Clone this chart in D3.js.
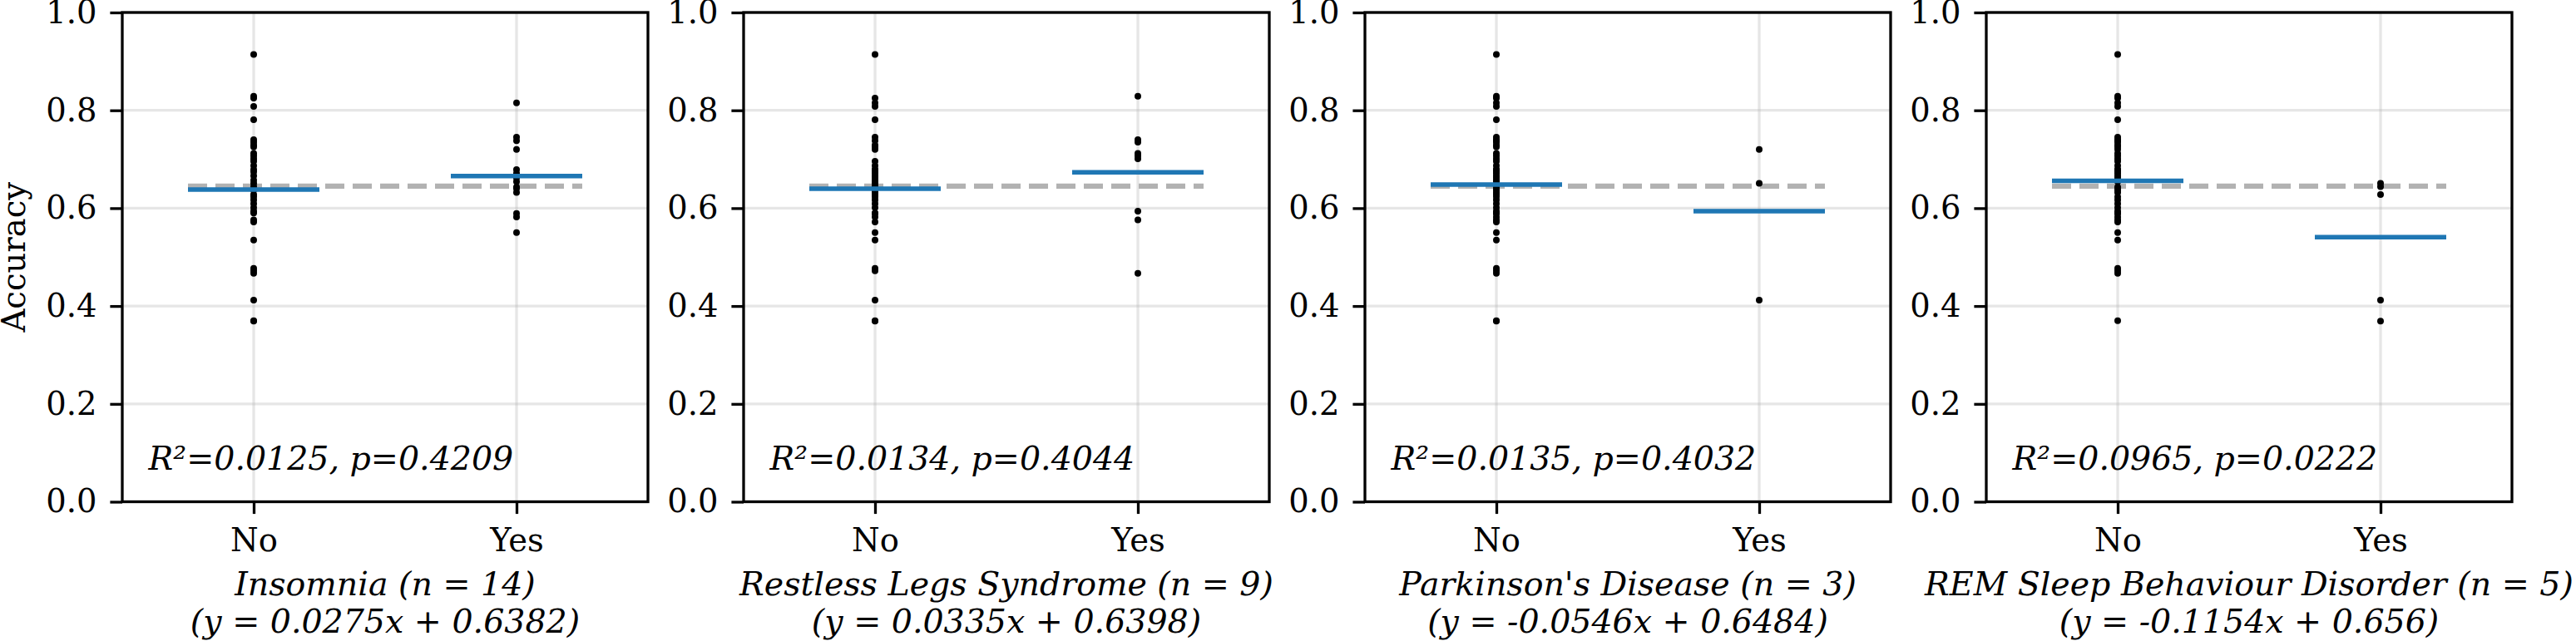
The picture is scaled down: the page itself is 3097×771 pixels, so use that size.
<!DOCTYPE html>
<html>
<head>
<meta charset="utf-8">
<script src="https://cdn.jsdelivr.net/npm/d3@7"></script>
<style>
  body { margin: 0; background: #fff; }
  svg { display: block; font-family: "DejaVu Serif", serif; }
</style>
</head>
<body>
<div id="chart"></div>
<script>
const conditions = ["Insomnia", "Restless Legs Syndrome", "Parkinson's Disease", "REM Sleep Behaviour Disorder"];
const groupLabels = ["No", "Yes"];
const slopes = [0.0275, 0.0335, -0.0546, -0.1154];
const intercepts = [0.6382, 0.6398, 0.6484, 0.656];
const rSquared = ["0.0125", "0.0134", "0.0135", "0.0965"];
const pValues = ["0.4209", "0.4044", "0.4032", "0.0222"];
const overallMean = 0.645;
const yTicks = [0, 0.2, 0.4, 0.6, 0.8, 1.0];

// every participant's accuracy
const allAccuracy = [
  0.914, 0.829, 0.825, 0.808, 0.781, 0.740, 0.735, 0.729, 0.725, 0.712,
  0.707, 0.701, 0.696, 0.687, 0.679, 0.674, 0.666, 0.657, 0.651, 0.644,
  0.637, 0.628, 0.623, 0.617, 0.609, 0.601, 0.594, 0.590, 0.576, 0.572,
  0.535, 0.477, 0.472, 0.467, 0.412, 0.369, 0.370,
  0.815, 0.745, 0.738, 0.720, 0.679, 0.671, 0.662, 0.654, 0.643, 0.640,
  0.632, 0.589, 0.582, 0.550
];

// accuracy of participants with each condition
const yesInsomnia = [0.815, 0.745, 0.738, 0.720, 0.679, 0.671, 0.662, 0.654, 0.643, 0.640, 0.632, 0.589, 0.582, 0.550];
const yesRestlessLegs = [0.829, 0.740, 0.735, 0.712, 0.707, 0.701, 0.594, 0.576, 0.467];
const yesParkinsons = [0.720, 0.651, 0.412];
const yesRemSleep = [0.651, 0.644, 0.628, 0.412, 0.369];
const yesGroups = [yesInsomnia, yesRestlessLegs, yesParkinsons, yesRemSleep];

const W = 3097, H = 771;
const panelLeft = 147, panelStep = 747;
const w = 632, plotTop = 15, h = 588.5;
const tickFS = 38.5, labelFS = 39.5, statFS = 39.5;

function withoutValues(all, remove) {
  const rest = all.slice();
  remove.forEach((v) => {
    const i = rest.findIndex((a) => Math.abs(a - v) < 1e-9);
    if (i >= 0) rest.splice(i, 1);
  });
  return rest;
}

const svg = d3.select("#chart").append("svg").attr("width", W).attr("height", H);

const yScale = d3.scaleLinear().domain([0, 1]).range([h, 0]);
const xScale = d3.scaleLinear().domain([-0.5, 1.5]).range([0, w]);

conditions.forEach((name, k) => {
  const g = svg.append("g").attr("transform", `translate(${panelLeft + k * panelStep},${plotTop})`);
  const yes = yesGroups[k];
  const no = withoutValues(allAccuracy, yes);

  // grid
  g.selectAll(".hgrid").data(yTicks).enter().append("line")
    .attr("x1", 0).attr("x2", w)
    .attr("y1", (d) => yScale(d)).attr("y2", (d) => yScale(d))
    .attr("stroke", "#b0b0b0").attr("stroke-opacity", 0.32).attr("stroke-width", 3.3);
  g.selectAll(".vgrid").data([0, 1]).enter().append("line")
    .attr("x1", (d) => xScale(d)).attr("x2", (d) => xScale(d))
    .attr("y1", 0).attr("y2", h)
    .attr("stroke", "#b0b0b0").attr("stroke-opacity", 0.32).attr("stroke-width", 3.3);

  // overall mean
  g.append("line")
    .attr("x1", xScale(-0.25)).attr("x2", xScale(1.25))
    .attr("y1", yScale(overallMean)).attr("y2", yScale(overallMean))
    .attr("stroke", "#b2b2b2").attr("stroke-width", 6.25)
    .attr("stroke-dasharray", "23,10");

  // points
  const pts = no.map((v) => ({ x: 0, v })).concat(yes.map((v) => ({ x: 1, v })));
  g.selectAll("circle").data(pts).enter().append("circle")
    .attr("cx", (d) => xScale(d.x)).attr("cy", (d) => yScale(d.v))
    .attr("r", 4).attr("fill", "#000");

  // group fitted means
  const means = [intercepts[k], intercepts[k] + slopes[k]];
  g.selectAll(".mean").data(means).enter().append("line")
    .attr("x1", (d, i) => xScale(i - 0.25)).attr("x2", (d, i) => xScale(i + 0.25))
    .attr("y1", (d) => yScale(d)).attr("y2", (d) => yScale(d))
    .attr("stroke", "#1f77b4").attr("stroke-width", 5.5);

  // axes
  const yAxis = d3.axisLeft(yScale).tickValues(yTicks).tickFormat(d3.format(".1f"))
    .tickSize(14.6).tickPadding(16);
  const ya = g.append("g").call(yAxis);
  const xAxis = d3.axisBottom(xScale).tickValues([0, 1]).tickFormat((i) => groupLabels[i])
    .tickSize(14.6).tickPadding(17.5);
  const xa = g.append("g").attr("transform", `translate(0,${h})`).call(xAxis);
  [ya, xa].forEach((a) => {
    a.select(".domain").remove();
    a.selectAll("line").attr("stroke", "#000").attr("stroke-width", 3.3);
    a.selectAll("text").attr("fill", "#000")
      .style("font-family", "DejaVu Serif").style("font-size", tickFS + "px");
  });

  // frame
  g.append("rect").attr("x", 0).attr("y", 0).attr("width", w).attr("height", h)
    .attr("fill", "none").attr("stroke", "#000").attr("stroke-width", 3.3);

  // stats
  g.append("text")
    .attr("x", w * 0.05).attr("y", h - 38.5)
    .style("font-size", statFS + "px").style("font-style", "italic")
    .text(`R²=${rSquared[k]}, p=${pValues[k]}`);

  // x label
  const lab = g.append("text").attr("text-anchor", "middle")
    .style("font-size", labelFS + "px").style("font-style", "italic");
  lab.append("tspan").attr("x", w / 2).attr("y", 701)
    .text(`${name} (n = ${yes.length})`);
  lab.append("tspan").attr("x", w / 2).attr("y", 746)
    .text(`(y = ${slopes[k]}x + ${intercepts[k]})`);
});

svg.append("text")
  .attr("transform", `translate(30,${plotTop + h / 2}) rotate(-90)`)
  .attr("text-anchor", "middle")
  .style("font-size", tickFS + "px")
  .text("Accuracy");
</script>
</body>
</html>
